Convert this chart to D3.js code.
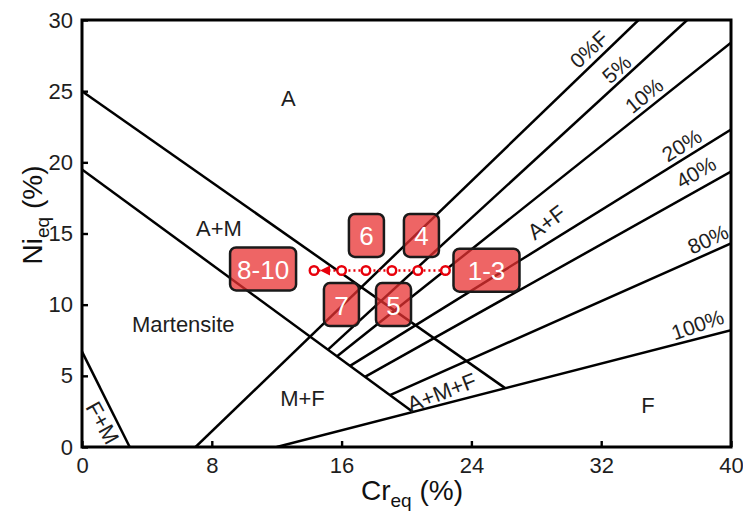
<!DOCTYPE html>
<html>
<head>
<meta charset="utf-8">
<script src="https://cdn.jsdelivr.net/npm/d3@7/dist/d3.min.js"></script>
<style>
  html, body { margin: 0; padding: 0; background: #fff; }
  svg { display: block; }
  text { font-family: "Liberation Sans", Arial, Helvetica, sans-serif; }
</style>
</head>
<body>
<svg id="chart" width="743" height="513"></svg>
<script>
// ---------- data ----------
const xTicks = [0, 8, 16, 24, 32, 40];
const yTicks = [0, 5, 10, 15, 20, 25, 30];

// phase boundaries (Cr_eq, Ni_eq)
const boundaryAM = [[0, 25], [26.1, 4.12]];      // A / A+M
const boundaryMart = [[0, 19.5], [20.4, 2.46]];  // A+M / Martensite
const boundaryFM = [[0, 6.7], [2.94, 0]];        // F+M

// ferrite iso-lines
const ferriteNames = ["0%F", "5%", "10%", "20%", "40%", "80%", "100%"];
const ferriteStart = [[7, 0], [15.16, 6.84], [15.72, 6.37], [16.52, 5.70], [17.44, 4.93], [18.98, 3.65], [12, 0]];
const ferriteEnd = [[34.3, 30], [37.3, 30], [40, 28.4], [40, 22.3], [40, 19.35], [40, 14.3], [40, 8.2]];
const ferriteLabelPos = [[31.24, 27.95], [32.95, 26.55], [34.64, 24.7], [36.96, 21.2], [37.84, 19.3], [38.58, 14.6], [37.94, 8.6]];
const ferriteLabelAngle = [-43, -42, -39, -32, -30, -25, -19];

// region labels
const regionNames = ["A", "A+M", "Martensite", "M+F", "A+M+F", "F", "F+M", "A+F"];
const regionPos = [[12.71, 24.45], [8.44, 15.32], [6.24, 8.59], [13.59, 3.44], [22.17, 3.83], [34.88, 2.95], [1.25, 1.69], [28.64, 15.77]];
const regionAngle = [0, 0, 0, 0, -21, 0, 61, -37];

// weld path points
const pathCr = [22.4, 20.7, 19.1, 17.5, 16.0, 14.3];
const pathNi = [12.4, 12.4, 12.4, 12.4, 12.4, 12.4];

// sample labels
const sampleNames = ["1-3", "4", "5", "6", "7", "8-10"];
const samplePos = [[24.93, 12.42], [20.92, 14.86], [19.2, 10.01], [17.53, 14.86], [15.99, 10.01], [11.16, 12.51]];

// ---------- layout ----------
const svg = d3.select("#chart");
const x = d3.scaleLinear().domain([0, 40]).range([82, 731]);
const y = d3.scaleLinear().domain([0, 30]).range([447, 20]);
const font = '"Liberation Sans", Arial, Helvetica, sans-serif';
const ink = "#1e1e1e";

svg.append("defs").append("clipPath").attr("id", "plotclip")
  .append("rect").attr("x", x(0)).attr("y", y(30)).attr("width", x(40) - x(0)).attr("height", y(0) - y(30));

const line = d3.line().x(d => x(d[0])).y(d => y(d[1]));
const g = svg.append("g").attr("clip-path", "url(#plotclip)");

const lines = [boundaryAM, boundaryMart, boundaryFM].concat(ferriteStart.map((s, i) => [s, ferriteEnd[i]]));
g.selectAll("path.bd").data(lines).join("path")
  .attr("class", "bd")
  .attr("d", line)
  .attr("fill", "none")
  .attr("stroke", "#000")
  .attr("stroke-width", 2.5);

// frame
svg.append("rect")
  .attr("x", x(0)).attr("y", y(30))
  .attr("width", x(40) - x(0)).attr("height", y(0) - y(30))
  .attr("fill", "none").attr("stroke", "#000").attr("stroke-width", 3);

// axes (inward ticks)
const xAxis = d3.axisBottom(x).tickValues(xTicks).tickSizeInner(-6).tickSizeOuter(0).tickPadding(10);
const yAxis = d3.axisLeft(y).tickValues(yTicks).tickSizeInner(-6).tickSizeOuter(0).tickPadding(11);
const gx = svg.append("g").attr("transform", `translate(0,${y(0)})`).call(xAxis);
const gy = svg.append("g").attr("transform", `translate(${x(0)},0)`).call(yAxis);
[gx, gy].forEach(a => {
  a.select(".domain").remove();
  a.selectAll(".tick line").attr("stroke", "#000").attr("stroke-width", 2.4);
  a.selectAll(".tick text").attr("fill", ink).style("font-size", "22px").style("font-family", font);
});
gy.selectAll(".tick text").attr("dx", "2");

// axis titles
const xt = svg.append("text").attr("x", 412).attr("y", 500).attr("text-anchor", "middle")
  .style("font-size", "28px").attr("fill", "#111");
xt.append("tspan").text("Cr");
xt.append("tspan").attr("dy", 7).style("font-size", "19px").text("eq");
xt.append("tspan").attr("dy", -7).text(" (%)");

const yt = svg.append("text").attr("transform", "translate(42,215) rotate(-90)").attr("text-anchor", "middle")
  .style("font-size", "28px").attr("fill", "#111");
yt.append("tspan").text("Ni");
yt.append("tspan").attr("dy", 7).style("font-size", "19px").text("eq");
yt.append("tspan").attr("dy", -7).text(" (%)");

// region labels
svg.selectAll("text.region").data(regionNames).join("text")
  .attr("class", "region")
  .attr("transform", (d, i) => `translate(${x(regionPos[i][0])},${y(regionPos[i][1])}) rotate(${regionAngle[i]})`)
  .attr("text-anchor", "middle").attr("dominant-baseline", "central")
  .style("font-size", "22px").attr("fill", ink)
  .text(d => d);

// ferrite labels
svg.selectAll("text.fl").data(ferriteNames).join("text")
  .attr("class", "fl")
  .attr("transform", (d, i) => `translate(${x(ferriteLabelPos[i][0])},${y(ferriteLabelPos[i][1])}) rotate(${ferriteLabelAngle[i]})`)
  .attr("text-anchor", "middle").attr("dominant-baseline", "central")
  .style("font-size", "21px").attr("fill", ink)
  .text(d => d);

// weld path (dotted, with arrow)
const red = "#e8000b";
const pts = pathCr.map((c, i) => [c, pathNi[i]]);
svg.append("path").attr("d", line([pts[0], pts[pts.length - 1]]))
  .attr("stroke", red).attr("stroke-width", 2.4).attr("stroke-dasharray", "2,3").attr("fill", "none");
const last = pts[pts.length - 1];
const tipX = x(last[0]) + 6, tipY = y(last[1]);
svg.append("path").attr("d", `M${tipX},${tipY} L${tipX + 10},${tipY - 5} L${tipX + 10},${tipY + 5} Z`).attr("fill", red);
svg.selectAll("circle.pt").data(pts).join("circle")
  .attr("class", "pt")
  .attr("cx", d => x(d[0])).attr("cy", d => y(d[1])).attr("r", 4.3)
  .attr("fill", "#fff").attr("stroke", red).attr("stroke-width", 2.4);

// sample boxes
const boxes = svg.selectAll("g.box").data(sampleNames).join("g")
  .attr("class", "box")
  .attr("transform", (d, i) => `translate(${x(samplePos[i][0])},${y(samplePos[i][1])})`);
boxes.append("rect")
  .attr("x", d => -(d.length > 2 ? 33 : d.length > 1 ? 29 : 17.5))
  .attr("width", d => d.length > 2 ? 66 : d.length > 1 ? 58 : 35)
  .attr("y", -21.5).attr("height", 43).attr("rx", 6)
  .attr("fill", "rgba(232,50,50,0.75)").attr("stroke", "#1a1a1a").attr("stroke-width", 2.5);
boxes.append("text").attr("text-anchor", "middle").attr("dominant-baseline", "central")
  .attr("y", 1).style("font-size", "26px").attr("fill", "#fff").text(d => d);
</script>
</body>
</html>
